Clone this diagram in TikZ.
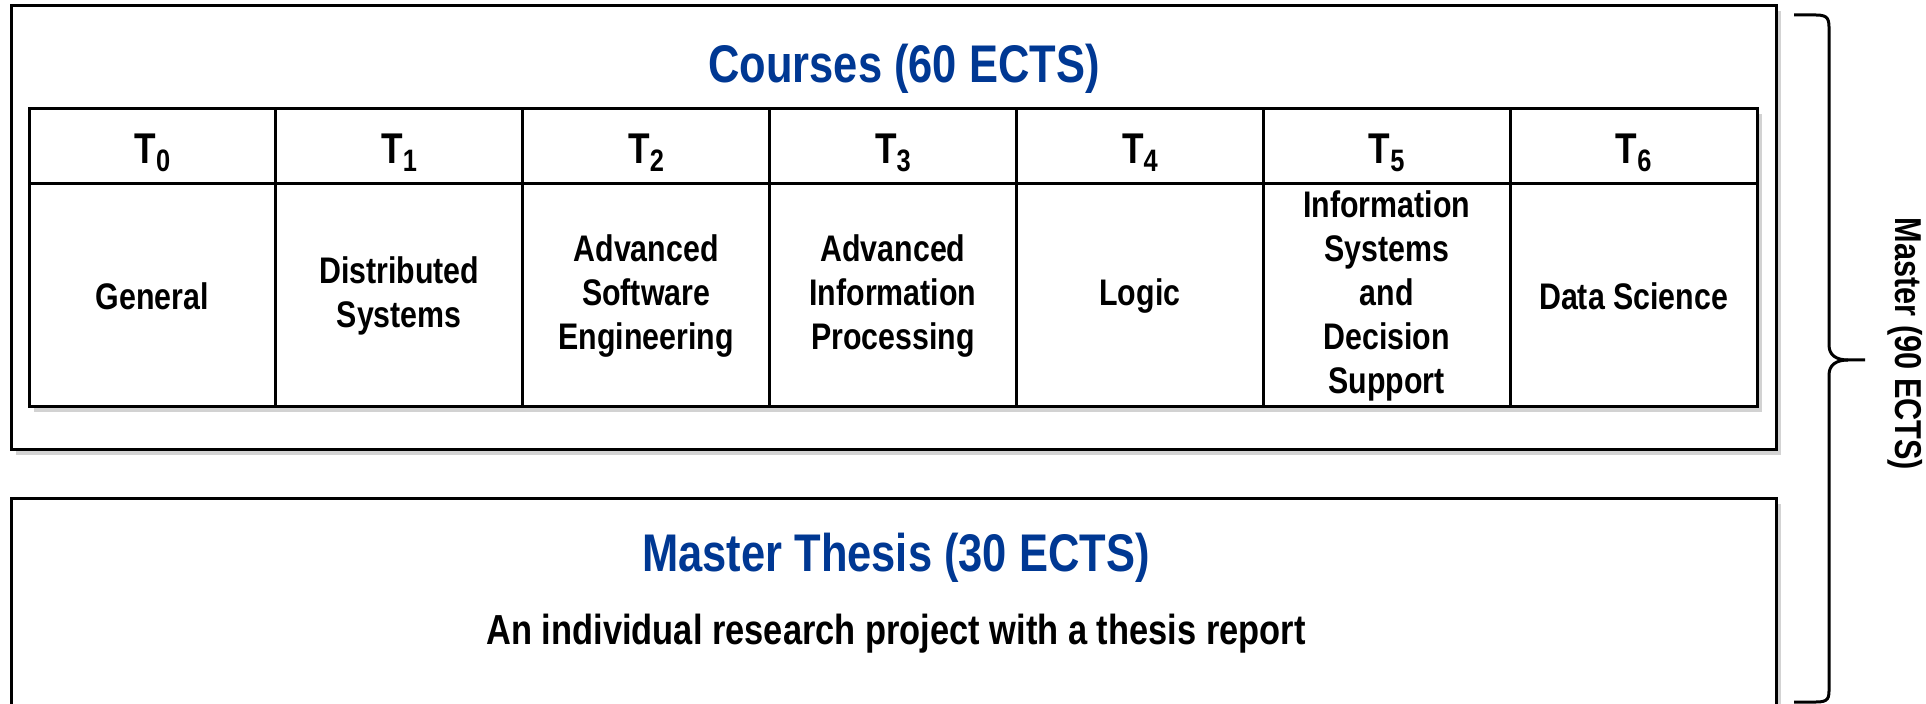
\documentclass[tikz,border=0pt]{standalone}
\usepackage{fontspec}
\setmainfont{Liberation Sans}[FakeStretch=0.82]
\usetikzlibrary{shadows}
\definecolor{ectsblue}{RGB}{0,56,147}
\newcommand{\tsub}[1]{\raisebox{-4pt}{\fontsize{15.5}{16}\selectfont #1}}
\tikzstyle{panel}=[draw,line width=1.5pt,fill=white,drop shadow={shadow xshift=2.5pt,shadow yshift=-2.5pt,opacity=0.35}]
\tikzstyle{grid}=[draw,line width=1.5pt]
\tikzstyle{title}=[text=ectsblue,font=\bfseries\fontsize{26.5}{30}\selectfont,anchor=base]
\tikzstyle{head}=[font=\bfseries\fontsize{21.5}{25}\selectfont,anchor=base]
\tikzstyle{topic}=[font=\bfseries\fontsize{18.5}{22}\selectfont,align=center,inner sep=0pt]
\tikzstyle{remark}=[font=\bfseries\fontsize{21}{25}\selectfont,anchor=base]
\begin{document}
\begin{tikzpicture}[x=0.5pt,y=-0.5pt]
  \useasboundingbox (0,0) rectangle (1926,704);
  % courses
  \path[panel] (11,6) rectangle (1776,450);
  \node[title] (courses) at (904,83) {Courses (60 ECTS)};
  \path[panel] (29,109) rectangle (1757,407);
  \draw[grid] (29,184) -- (1757,184);
  \foreach \i in {1,...,6}
    \draw[grid] (29+246.86*\i,109) -- (29+246.86*\i,407);
  \foreach \i/\topic in {0/General,1/{Distributed\\Systems},2/{Advanced\\Software\\Engineering},
      3/{Advanced\\Information\\Processing},4/Logic,5/{Information\\Systems\\and\\Decision\\Support},6/Data Science}{
    \node[head] (t\i) at (152.4+246.86*\i,164) {T\tsub{\i}};
    \node[topic] (b\i) at (152.4+246.86*\i,296) {\topic};
  }
  % thesis
  \path[panel] (11,499) rectangle (1776,720);
  \node[title] (thesis) at (896,572) {Master Thesis (30 ECTS)};
  \node[remark] (project) at (896,645) {An individual research project with a thesis report};
  % brace
  \draw[line width=1.5pt] (1794,15) -- (1816,15) .. controls (1829,15) and (1829,20) .. (1829,30)
    -- (1829,345) .. controls (1829,355) and (1836,360) .. (1848,360) -- (1865,360);
  \draw[line width=1.5pt] (1848,360) .. controls (1836,360) and (1829,365) .. (1829,375)
    -- (1829,688) .. controls (1829,698) and (1829,702) .. (1816,702) -- (1794,702);
  \node[remark,rotate=-90,font=\bfseries\fontsize{18.7}{22}\selectfont] (master) at (1895,344) {Master (90 ECTS)};
\end{tikzpicture}
\end{document}
